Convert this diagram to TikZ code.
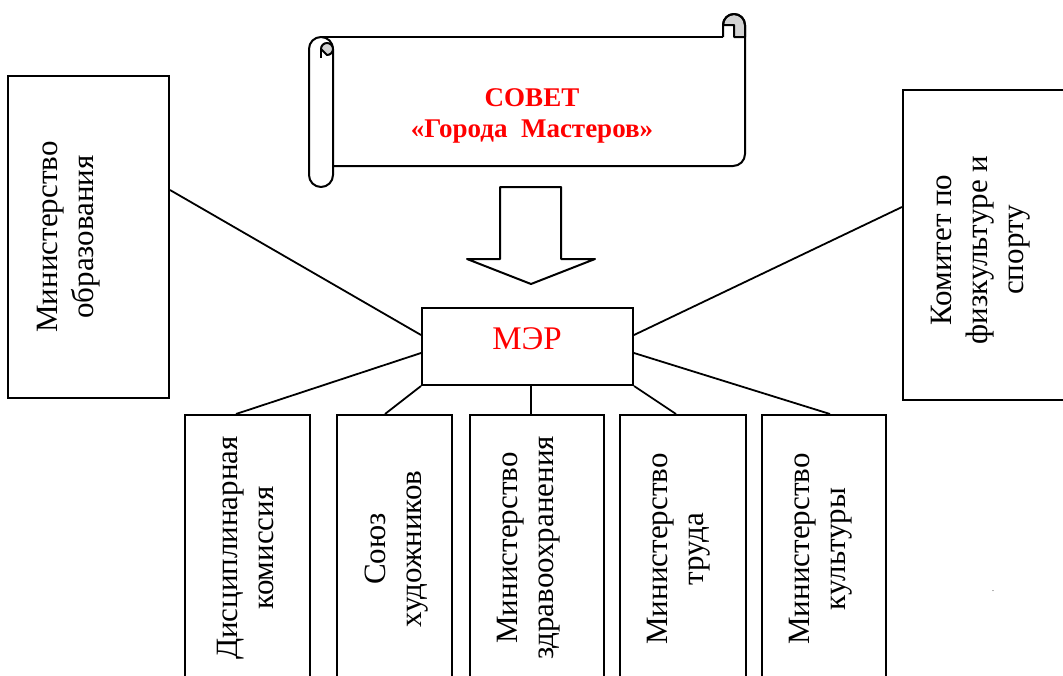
\documentclass[tikz,border=0pt]{standalone}
\usepackage{fontspec}
\setmainfont{Liberation Serif}
\usepackage{tikz}
\usetikzlibrary{calc}

\tikzset{
  box/.style={draw, line width=2pt, inner sep=0pt},
  vtext/.style={rotate=90, align=center, inner sep=0pt, font=\fontsize{31}{36}\selectfont},
  link/.style={line width=1.8pt},
  roll/.style={line width=2pt, line join=round}
}

\begin{document}
\begin{tikzpicture}[x=1pt, y=-1pt]
		\clip (0,0) rectangle (1063,675);
		
		% scroll
		\filldraw[roll, fill=gray!35] (723,25) arc (180:360:11) -- (745,37) -- (734,37) -- (734,25) -- cycle;
		\draw[roll] (723,37) -- (723,25) arc (180:360:11) -- (745,154) arc (0:90:12) -- (333,166);
		\draw[roll] (321,37) -- (723,37);
		\draw[roll, fill=white] (309,49) arc (180:360:12) -- (333,175) arc (0:180:12) -- cycle;
		\filldraw[roll, fill=gray!35] (321,49) arc (180:450:6) -- cycle;
		\draw[roll] (321,49) -- (321,58);
		\node (sovet) at (532,116) [align=center, text=red, font=\fontsize{27}{31}\selectfont\bfseries] {СОВЕТ\\«Города~~Мастеров»};
		
		% arrow
		\draw[roll] (500,187) -- (561,187) -- (561,259) -- (595,259) -- (531,284) -- (467,259) -- (500,259) -- cycle;
		
		\node[box, minimum width=211pt, minimum height=77pt] (mer) at (527.5,346.5) {};
		\node (mertext) at (527,339) [text=red, font=\fontsize{33}{36}\selectfont] {МЭР};
		
		\node[box, minimum width=161pt, minimum height=322pt] (obr) at (88.5,237) {};
		\node[vtext] (obrtext) at (69,237) {Министерство\\образования};
		
		\node[box, minimum width=167pt, minimum height=310pt] (sport) at (986.5,245) {};
		\node[vtext] (sporttext) at (981,250) {Комитет по\\физкультуре и\\спорту};
		
		\node[box, minimum width=125pt, minimum height=280pt] (disc) at (247.5,555) {};
		\node[box, minimum width=115pt, minimum height=280pt] (soyuz) at (394.5,555) {};
		\node[box, minimum width=134pt, minimum height=280pt] (zdrav) at (537,555) {};
		\node[box, minimum width=126pt, minimum height=280pt] (trud) at (683,555) {};
		\node[box, minimum width=124pt, minimum height=280pt] (kult) at (824,555) {};
		
		\node[vtext] (disctext) at (245,548) {Дисциплинарная\\комиссия};
		\node[vtext] (soyuztext) at (397,549) {Союз\\художников};
		\node[vtext] (zdravtext) at (529,548) {Министерство\\здравоохранения};
		\node[vtext] (trudtext) at (679,549) {Министерство\\труда};
		\node[vtext] (kulttext) at (821,549) {Министерство\\культуры};
		
		\node (dot) at (993,591) [font=\fontsize{8}{8}\selectfont] {.};
		
		\draw[link] ([yshift=47pt]obr.east) -- ([yshift=11.5pt]mer.west);
		\draw[link] ([yshift=38pt]sport.west) -- ([yshift=11.5pt]mer.east);
		\draw[link] ([xshift=-11.5pt]disc.north) -- ([yshift=-6.5pt]mer.west);
		\draw[link] ([xshift=-9.5pt]soyuz.north) -- (mer.south west);
		\draw[link] ([xshift=-6pt]zdrav.north) -- ([xshift=3.5pt]mer.south);
		\draw[link] ([xshift=-7pt]trud.north) -- (mer.south east);
		\draw[link] ([xshift=6pt]kult.north) -- ([yshift=-6.5pt]mer.east);
	\end{tikzpicture}
\end{document}
